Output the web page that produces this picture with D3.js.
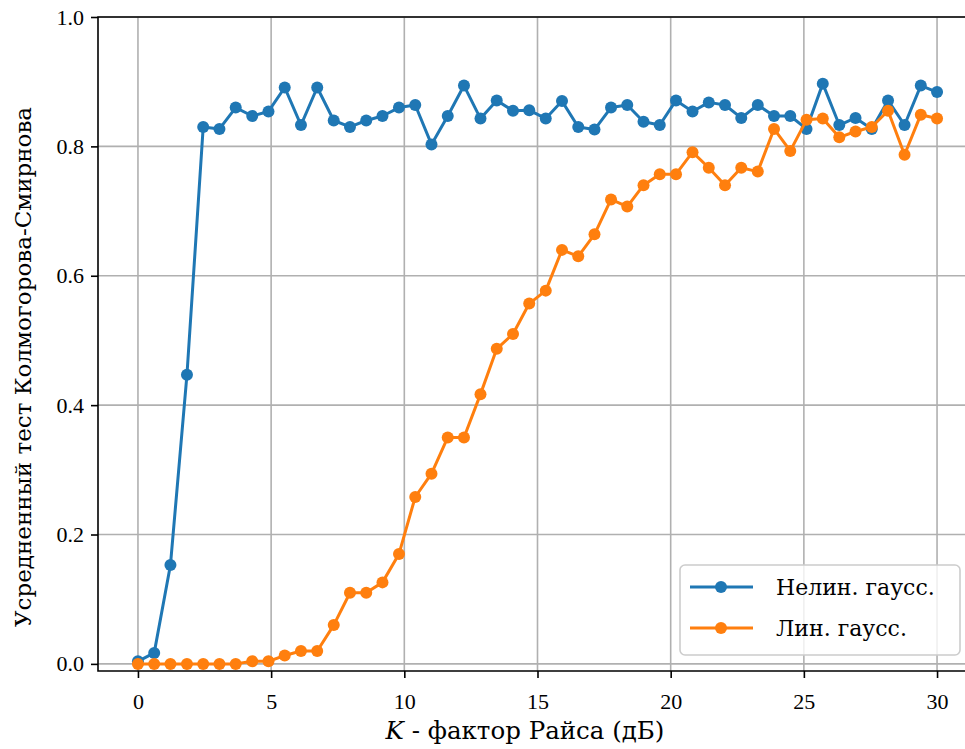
<!DOCTYPE html>
<html>
<head>
<meta charset="utf-8">
<script src="https://cdn.jsdelivr.net/npm/d3@7"></script>
<style>
  body { margin: 0; background: #fff; }
  text { font-family: "Liberation Serif", "DejaVu Serif", serif; fill: #000; }
  .tick text { font-size: 22px; }
  .lbl { font-family: "DejaVu Serif", serif; }
</style>
</head>
<body>
<svg width="965" height="749"></svg>
<script>
// K - фактор Райса (дБ)
const kValues = [0, 0.61, 1.22, 1.84, 2.45, 3.06, 3.67, 4.29, 4.90, 5.51,
  6.12, 6.73, 7.35, 7.96, 8.57, 9.18, 9.80, 10.41, 11.02, 11.63,
  12.24, 12.86, 13.47, 14.08, 14.69, 15.31, 15.92, 16.53, 17.14, 17.76,
  18.37, 18.98, 19.59, 20.20, 20.82, 21.43, 22.04, 22.65, 23.27, 23.88,
  24.49, 25.10, 25.71, 26.33, 26.94, 27.55, 28.16, 28.78, 29.39, 30.00]

// Нелин. гаусс.
const nonlinGauss = [0.004, 0.017, 0.153, 0.447, 0.830, 0.827, 0.860, 0.847, 0.854, 0.891,
  0.833, 0.891, 0.840, 0.830, 0.840, 0.847, 0.860, 0.864, 0.803, 0.847,
  0.894, 0.843, 0.871, 0.855, 0.856, 0.843, 0.870, 0.830, 0.826, 0.860,
  0.864, 0.838, 0.833, 0.871, 0.854, 0.868, 0.864, 0.844, 0.864, 0.847,
  0.847, 0.827, 0.897, 0.833, 0.844, 0.827, 0.871, 0.833, 0.894, 0.884]

// Лин. гаусс.
const linGauss = [0, 0, 0, 0, 0, 0, 0, 0.004, 0.004, 0.013,
  0.020, 0.020, 0.060, 0.110, 0.110, 0.126, 0.170, 0.258, 0.294, 0.350,
  0.350, 0.417, 0.487, 0.510, 0.557, 0.577, 0.640, 0.630, 0.664, 0.718,
  0.707, 0.740, 0.757, 0.757, 0.791, 0.767, 0.740, 0.767, 0.761, 0.827,
  0.793, 0.841, 0.843, 0.814, 0.823, 0.830, 0.855, 0.787, 0.849, 0.843]

const xTicks = [0, 5, 10, 15, 20, 25, 30]
const yTicks = [0.0, 0.2, 0.4, 0.6, 0.8, 1.0]
const seriesNames = ["Нелин. гаусс.", "Лин. гаусс."]
const seriesColors = ["#1f77b4", "#ff7f0e"]

const margin = {top: 17, left: 98}
const plotW = 879, plotH = 654

let svg = d3.select("svg")

let scaleX = d3.scaleLinear().domain([-1.5, 31.5]).range([0, plotW])
let scaleY = d3.scaleLinear().domain([-0.011, 1.0]).range([plotH, 0])

let g = svg.append("g")
  .attr("transform", "translate(" + margin.left + "," + margin.top + ")")

// grille
g.append("g").selectAll("line").data(xTicks).enter().append("line")
  .attr("x1", d => scaleX(d)).attr("x2", d => scaleX(d))
  .attr("y1", 0).attr("y2", plotH)
  .style("stroke", "#b0b0b0").style("stroke-width", 1.6)
g.append("g").selectAll("line").data(yTicks).enter().append("line")
  .attr("x1", 0).attr("x2", plotW)
  .attr("y1", d => scaleY(d)).attr("y2", d => scaleY(d))
  .style("stroke", "#b0b0b0").style("stroke-width", 1.6)

// courbes
let line = d3.line()
  .x((d, i) => scaleX(kValues[i]))
  .y(d => scaleY(d))

;[nonlinGauss, linGauss].forEach(function (data, s) {
  let gs = g.append("g")
  gs.append("path")
    .attr("d", line(data))
    .style("stroke", seriesColors[s]).style("stroke-width", 3)
    .style("fill", "none").style("stroke-linejoin", "round")
  gs.selectAll("circle").data(data).enter().append("circle")
    .attr("cx", (d, i) => scaleX(kValues[i]))
    .attr("cy", d => scaleY(d))
    .attr("r", 6)
    .style("fill", seriesColors[s])
})

// axes
let gX = g.append("g")
  .attr("transform", "translate(0," + plotH + ")")
  .call(d3.axisBottom(scaleX).tickValues(xTicks).tickSize(7).tickPadding(10).tickFormat(d3.format("d")))
let gY = g.append("g")
  .call(d3.axisLeft(scaleY).tickValues(yTicks).tickSize(7).tickPadding(7).tickFormat(d3.format(".1f")))
;[gX, gY].forEach(function (a) {
  a.attr("font-family", null).attr("font-size", null)
  a.select(".domain").remove()
  a.selectAll(".tick line").style("stroke", "#000").style("stroke-width", 1.6)
})
gX.selectAll(".tick text").attr("dy", "0.95em")

// cadre (le bord droit sort de l'image)
g.append("path")
  .attr("d", "M" + plotW + ",0H0V" + plotH + "H" + plotW)
  .style("fill", "none").style("stroke", "#000").style("stroke-width", 1.6)

// titres d'axes
let xLabel = svg.append("text").attr("class", "lbl")
  .attr("x", 525).attr("y", 739)
  .attr("text-anchor", "middle")
  .style("font-size", "24.5px")
xLabel.append("tspan").style("font-style", "italic").text("K")
xLabel.append("tspan").text(" - фактор Райса (дБ)")

svg.append("text").attr("class", "lbl")
  .attr("transform", "translate(31,367) rotate(-90)")
  .attr("text-anchor", "middle")
  .style("font-size", "23px")
  .text("Усредненный тест Колмогорова-Смирнова")

// légende
let leg = svg.append("g").attr("transform", "translate(680,565)")
leg.append("rect")
  .attr("width", 280).attr("height", 90).attr("rx", 5)
  .style("fill", "#fff").style("fill-opacity", 0.8)
  .style("stroke", "#cccccc").style("stroke-width", 1.6)
seriesNames.forEach(function (name, s) {
  let ly = 22 + s * 41
  leg.append("line")
    .attr("x1", 10).attr("x2", 73).attr("y1", ly).attr("y2", ly)
    .style("stroke", seriesColors[s]).style("stroke-width", 3)
  leg.append("circle")
    .attr("cx", 41).attr("cy", ly).attr("r", 6)
    .style("fill", seriesColors[s])
  leg.append("text").attr("class", "lbl")
    .attr("x", 96).attr("y", ly).attr("dy", "0.35em")
    .style("font-size", "22px")
    .text(name)
})
</script>
</body>
</html>
